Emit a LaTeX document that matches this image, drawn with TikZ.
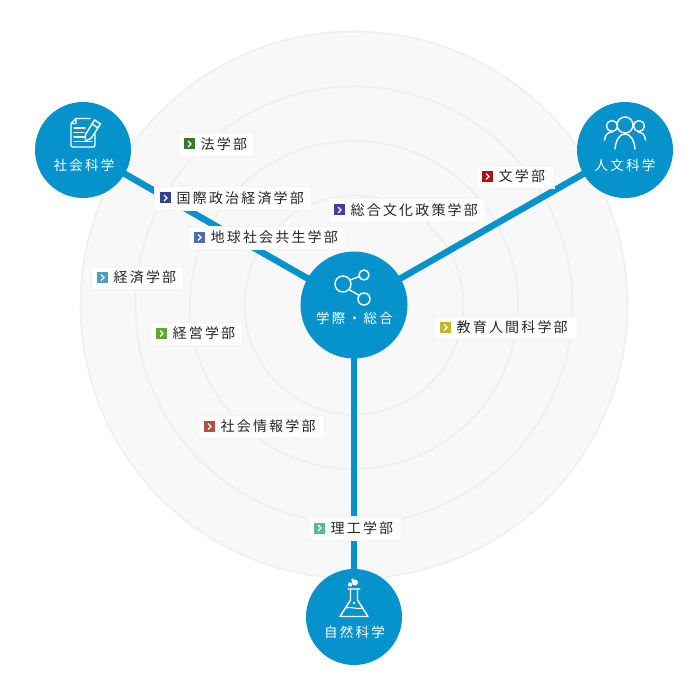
\documentclass[tikz,border=0pt]{standalone}
\usepackage{fontspec}
\newfontfamily\cjk[LetterSpace=15.5]{Noto Sans CJK JP}
\newfontfamily\cjkhub[LetterSpace=17]{Noto Sans CJK JP}
\definecolor{hubblue}{HTML}{0693CC}
\definecolor{ringfill}{HTML}{F8F8F8}
\definecolor{ringline}{HTML}{EFEFEF}
\definecolor{boxline}{HTML}{F3F3F3}
\definecolor{cHo}{HTML}{3A7A26}
\definecolor{cKokusai}{HTML}{35408F}
\definecolor{cSogo}{HTML}{4B3AA5}
\definecolor{cChikyu}{HTML}{4A6DB5}
\definecolor{cKeizai}{HTML}{4D9FC4}
\definecolor{cKeiei}{HTML}{62A82C}
\definecolor{cKyoiku}{HTML}{C9B32A}
\definecolor{cBun}{HTML}{B01116}
\definecolor{cJoho}{HTML}{B0523F}
\definecolor{cRiko}{HTML}{4FC08D}
\tikzset{
  ring/.style={circle,draw=ringline,line width=1.6pt,fill=ringfill,inner sep=0pt},
  hub/.style={circle,fill=hubblue,inner sep=0pt,minimum size=96pt},
  hubtext/.style={text=white,font=\cjkhub\fontsize{13.5pt}{15pt}\selectfont,inner sep=0pt},
  conn/.style={draw=hubblue,line width=6.5pt,shorten <=-2pt,shorten >=-2pt},
  deptbox/.style={fill=white,draw=boxline,line width=.8pt,inner sep=0pt},
  depttext/.style={text=black!85,font=\cjk\fontsize{14pt}{15pt}\selectfont,inner sep=0pt,anchor=west},
  sq/.style={inner sep=0pt,minimum size=11pt},
  icon/.style={draw=white,line width=1.4pt,line join=round,line cap=round},
  chev/.style={draw=white,line width=1.1pt}
}
% name, x1, y1, x2, y2, colour, text
\newcommand{\dept}[7]{%
  \node[deptbox,minimum width={(#4)-(#2)},minimum height={(#5)-(#3)}] (#1) at ({((#2)+(#4))/2},{((#3)+(#5))/2}) {};
  \node[sq,fill=#6] (#1m) at ({(#2)+11.5},{((#3)+(#5))/2}) {};
  \draw[chev] ($(#1m)+(-1.5,-3)$) -- ($(#1m)+(1.5,0)$) -- ($(#1m)+(-1.5,3)$);
  \node[depttext] (#1t) at ({(#2)+22.5},{((#3)+(#5))/2}) {#7};
}
\usetikzlibrary{calc}
\begin{document}
\begin{tikzpicture}[x=1pt,y=-1pt]
\useasboundingbox (0,0) rectangle (700,700);
% rings
\node[ring,minimum size=547pt] (r1) at (354,305) {};
\node[ring,minimum size=437pt] (r2) at (354,305) {};
\node[ring,minimum size=328pt] (r3) at (354,305) {};
\node[ring,minimum size=219pt] (r4) at (354,305) {};
% hubs
\node[hub] (soc) at (83,150) {};
\node[hub] (hum) at (625,150) {};
\node[hub] (nat) at (354,617) {};
\node[hub,minimum size=107pt] (ctr) at (354,305) {};
% connectors
\draw[conn] (soc) -- (ctr);
\draw[conn] (hum) -- (ctr);
\draw[conn] (nat) -- (ctr);
% hub texts
\node[hubtext] (soct) at (84,165.5) {社会科学};
\node[hubtext] (humt) at (625,165.5) {人文科学};
\node[hubtext] (natt) at (354.5,632.5) {自然科学};
\node[hubtext] (ctrt) at (354.5,318.5) {学際・総合};
% document icon
\draw[icon] (71,123.5) -- (76,118.5) -- (90,118.5) (76,118.5) -- (76,123.5) -- (71,123.5) -- (71,145) .. controls (71,146.5) and (72,147) .. (73,147) -- (93,147) .. controls (94,147) and (95,146.5) .. (95,145) -- (95,134);
\draw[icon,line width=1.1pt] (74,128) -- (85,128) (74,132.5) -- (84,132.5) (74,137) -- (85,137) (74,141.5) -- (92,141.5);
\draw[icon] (94.5,120) -- (100.5,124) -- (91,138.5) -- (85.5,141) -- (85.5,134.5) -- cycle (92,124) -- (98,128);
% people icon
\draw[icon] (625,125) circle (8) (612,126) circle (5.5) (639,126) circle (5.5);
\draw[icon] (615,149) .. controls (616,139) and (620,134) .. (625,134) .. controls (630,134) and (634,139) .. (635,149);
\draw[icon] (604.5,140) .. controls (605,135) and (608,132) .. (612,132) (645.5,140) .. controls (645,135) and (642,132) .. (638,132);
% share icon
\draw[icon] (343,284) circle (8) (364,275) circle (5) (364,299) circle (6);
\draw[icon] (350,280) -- (359.5,276.5) (349,289.5) -- (359.5,295.5);
% flask icon
\draw[icon] (348,589) -- (360,589) (350.5,589) -- (350.5,600) -- (340,616.5) -- (368,616.5) -- (357.5,600) -- (357.5,589);
\draw[icon,line width=1.1pt] (345.5,608) .. controls (350,606) and (358,610) .. (363,608);
\fill[white] (350,584.5) circle (2.2) (355,582.5) circle (3) (352.5,580) circle (1.5) (354,603) circle (1.3);
% departments
\dept{ho}{178}{132}{254}{156}{cHo}{法学部}
\dept{kok}{154}{186}{311}{210}{cKokusai}{国際政治経済学部}
\dept{sog}{328}{198}{485}{222}{cSogo}{総合文化政策学部}
\dept{chi}{188}{226}{345}{249}{cChikyu}{地球社会共生学部}
\dept{kzi}{91}{266}{183}{289}{cKeizai}{経済学部}
\dept{kei}{150}{322}{242}{345}{cKeiei}{経営学部}
\dept{kyo}{434}{316}{577}{339}{cKyoiku}{教育人間科学部}
\dept{bun}{476}{165}{554}{188}{cBun}{文学部}
\dept{joh}{198}{415}{324}{438}{cJoho}{社会情報学部}
\dept{rik}{308}{516}{401}{540}{cRiko}{理工学部}
\end{tikzpicture}
\end{document}
